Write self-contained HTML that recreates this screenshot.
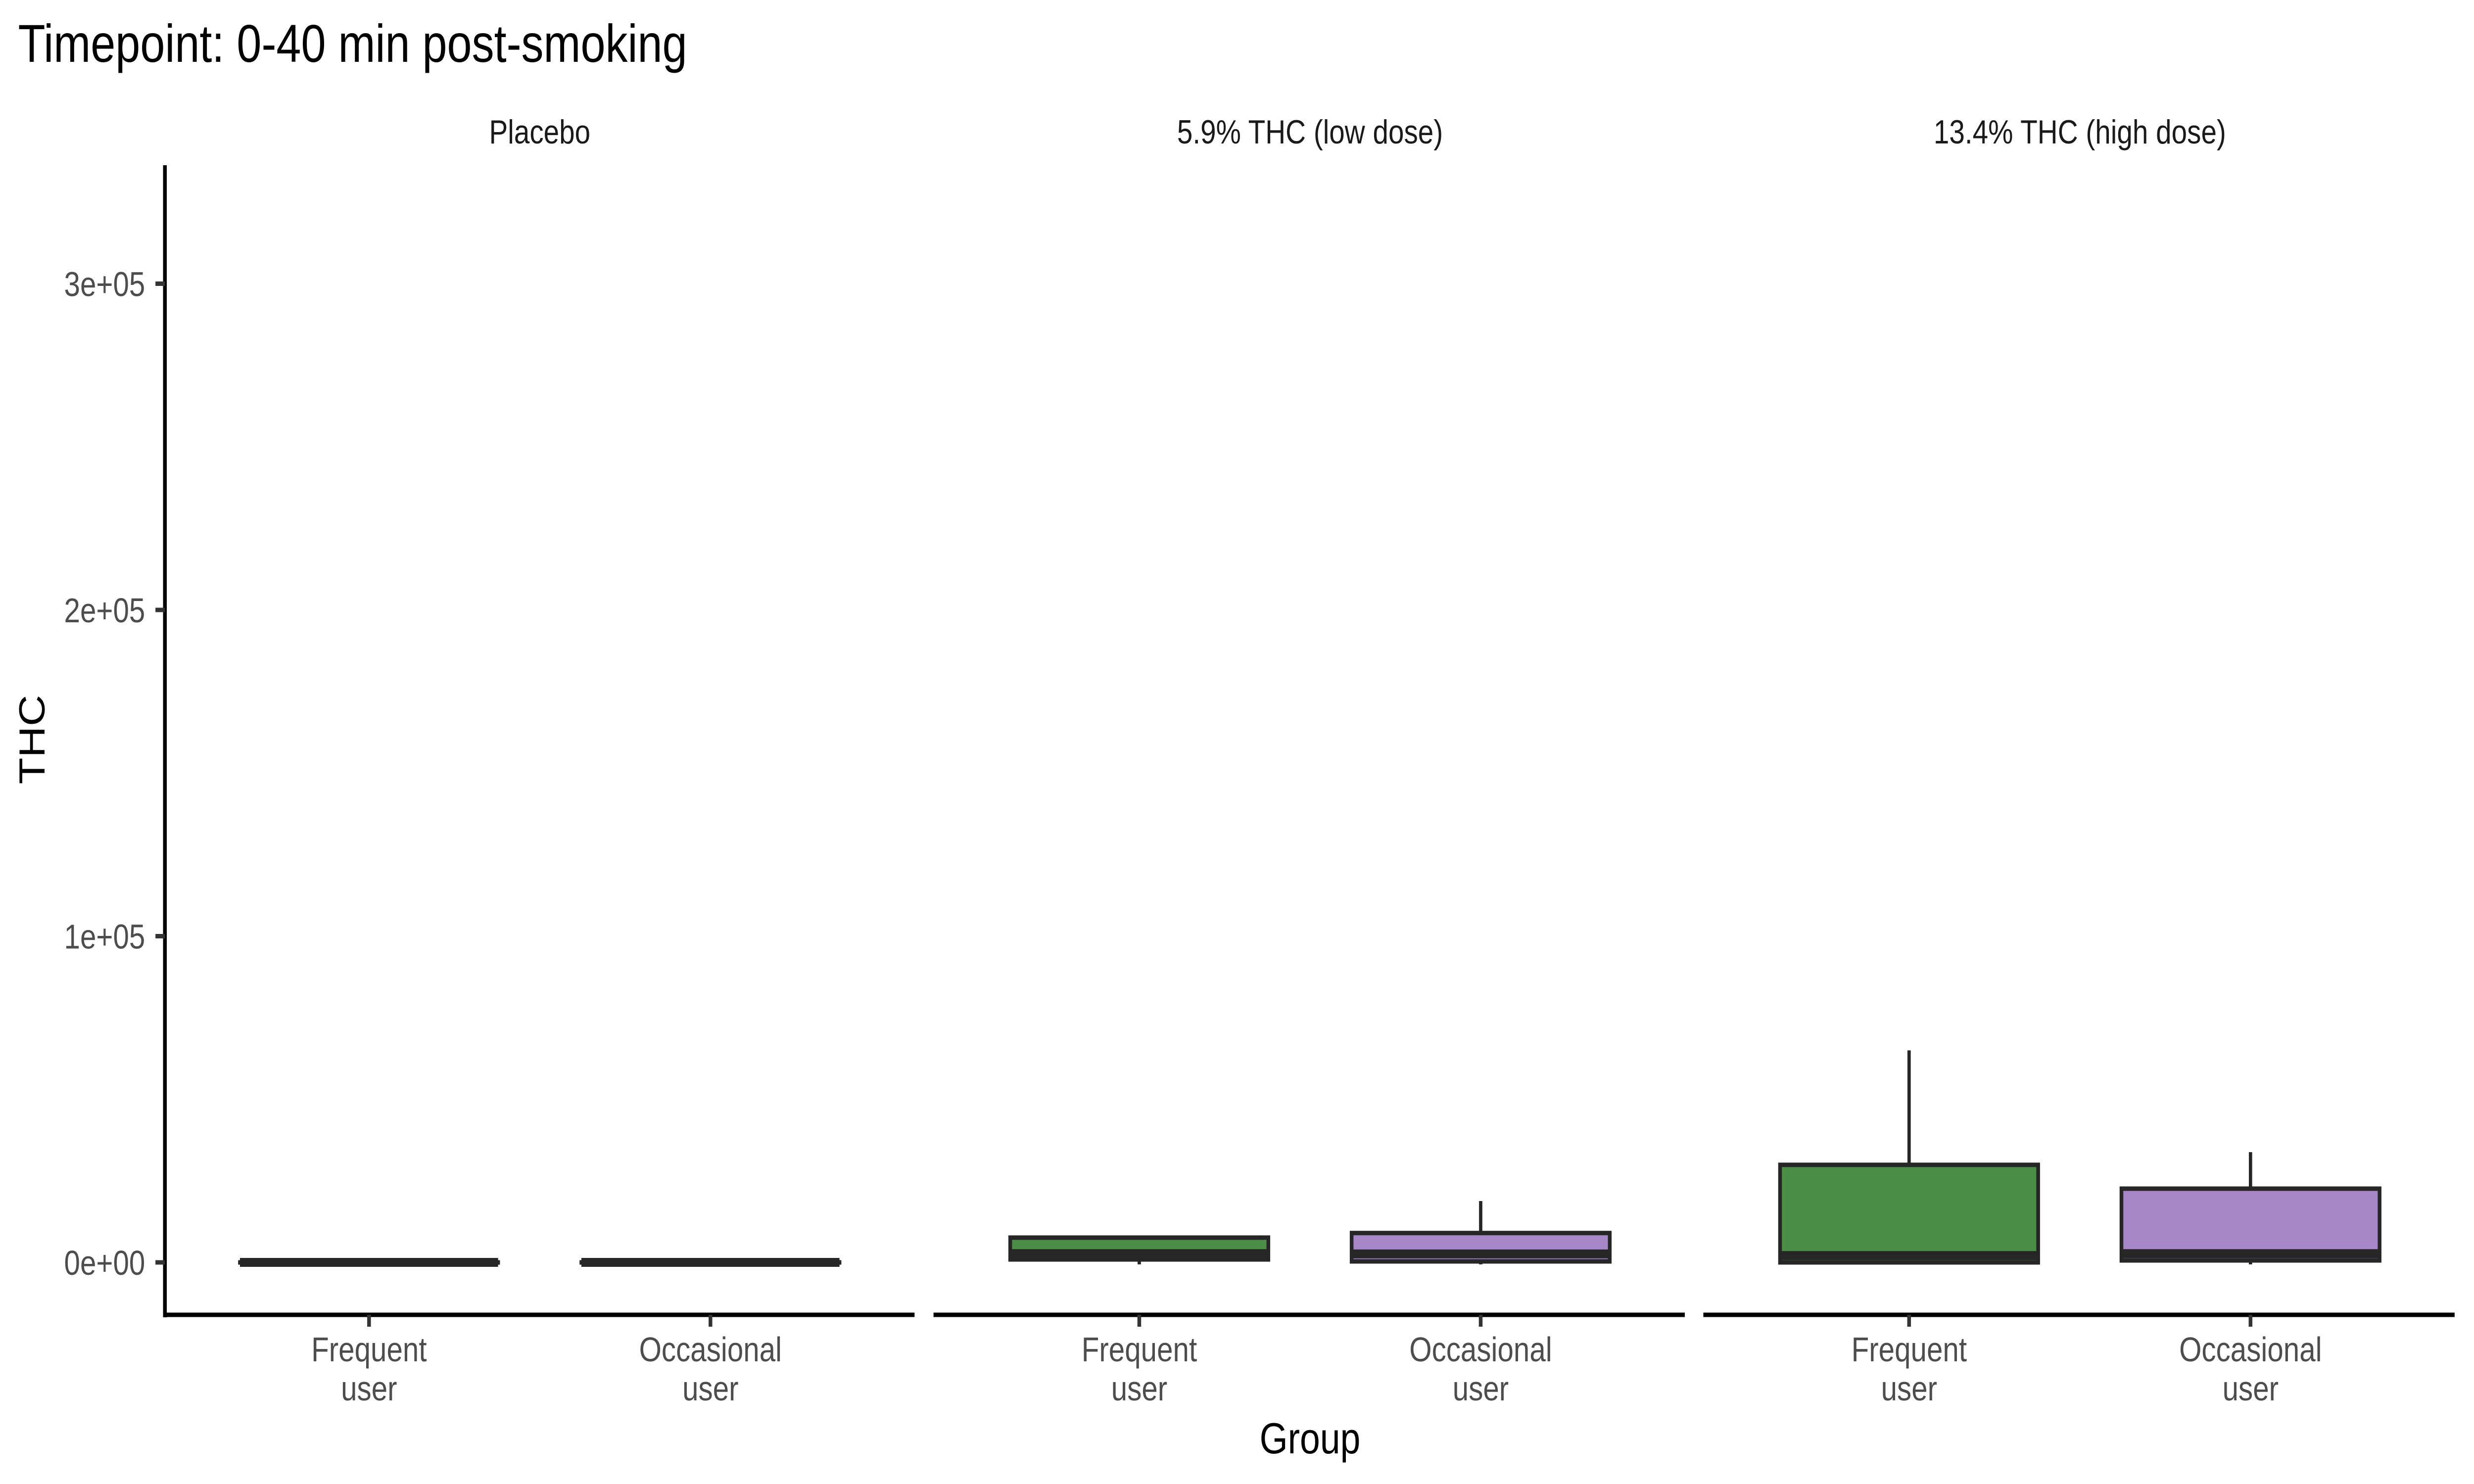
<!DOCTYPE html>
<html><head><meta charset="utf-8"><style>
html,body{margin:0;padding:0;background:#fff;width:100%;height:100%;overflow:hidden}
svg{display:block;width:100vw;height:100vh}
text{font-family:"Liberation Sans",Arial,sans-serif}
</style></head><body>
<svg id="chart" viewBox="0 0 6000 3000" preserveAspectRatio="none" xmlns="http://www.w3.org/2000/svg">
<text x="44" y="125" font-size="108" fill="#000">Timepoint: 0-40 min post-smoking</text>
<text transform="translate(108,1495) rotate(-90)" text-anchor="middle" font-size="88" fill="#000">THC</text>
<text x="3177" y="2938" text-anchor="middle" font-size="88" fill="#000">Group</text>
<g id="plot"></g>
</svg>
<script>
const panels = ["Placebo", "5.9% THC (low dose)", "13.4% THC (high dose)"];
const groups = ["Frequent user", "Occasional user"];
const yTicks = [0, 100000, 200000, 300000];
const yTickLabels = ["0e+00", "1e+05", "2e+05", "3e+05"];
// per panel, per group: [min, q1, median, q3, max]
const placeboStats = [[0, 0, 0, 0, 0], [0, 0, 0, 0, 0]];
const lowStats = [[0, 900, 2700, 7600, 7600], [0, 300, 2600, 9000, 18800]];
const highStats = [[0, 0, 2100, 29900, 65000], [0, 600, 2700, 22600, 33800]];
const fills = ["#4a8f45", "#a688c9"];

const stats = [placeboStats, lowStats, highStats];
const svgNS = "http://www.w3.org/2000/svg";
const g = document.getElementById("plot");
const panelX0 = [400, 2268, 4135], panelW = 1818;
const y0 = 2552, pxPer = 659.5 / 100000;
function y(v){ return y0 - v * pxPer; }
function xc(p, i){ return panelX0[p] + 495 + i * 828; }
function mk(tag, attrs){ const e = document.createElementNS(svgNS, tag); for (const k in attrs) e.setAttribute(k, attrs[k]); g.appendChild(e); return e; }

const ya = mk("line", {x1:400, y1:334, x2:400, y2:2663, stroke:"#000", "stroke-width":9});


yTicks.forEach((v, i) => {
  const t = mk("line", {x1:377, x2:400, y1:y(v), y2:y(v), stroke:"#333", "stroke-width":9});
  
  
  const l = mk("text", {x:352, y:y(v) + 25, "text-anchor":"end", "font-size":70, fill:"#4d4d4d"});
  l.textContent = yTickLabels[i];
  
  
});

panels.forEach((pn, p) => {
  const s = mk("text", {x:panelX0[p] + panelW/2, y:290, "text-anchor":"middle", "font-size":68, fill:"#1a1a1a"});
  s.textContent = pn;
  
  
  const xa = mk("line", {x1:panelX0[p] - 4, x2:panelX0[p] + panelW, y1:2658, y2:2658, stroke:"#000", "stroke-width":9});
  
  
  groups.forEach((gr, i) => {
    const cx = xc(p, i);
    const t = mk("line", {x1:cx, x2:cx, y1:2658, y2:2682, stroke:"#333", "stroke-width":9});
    
    
    const words = gr.split(" ");
    words.forEach((w, k) => {
      const l = mk("text", {x:cx, y:2752 + k * 79, "text-anchor":"middle", "font-size":70, fill:"#4d4d4d"});
      l.textContent = w;
      
      
    });
    const st = stats[p][i];
    const hw = 313;
    const w1 = mk("line", {x1:cx, x2:cx, y1:y(st[3]), y2:y(st[4]), stroke:"#262626", "stroke-width":8});
    
    
    const w2 = mk("line", {x1:cx, x2:cx, y1:y(st[1]), y2:y(st[0]) + 4, stroke:"#262626", "stroke-width":8});
    
    
    const top = y(st[3]), bot = y(st[1]);
    const b = mk("rect", {x:cx - hw, y:top, width:2*hw, height:Math.max(bot - top, 0.1), fill:fills[i], stroke:"#262626", "stroke-width":9});
    
    
    const m = mk("line", {x1:cx - hw, x2:cx + hw, y1:y(st[2]), y2:y(st[2]), stroke:"#262626", "stroke-width":18});
    
    
  });
});
</script>
</body></html>
